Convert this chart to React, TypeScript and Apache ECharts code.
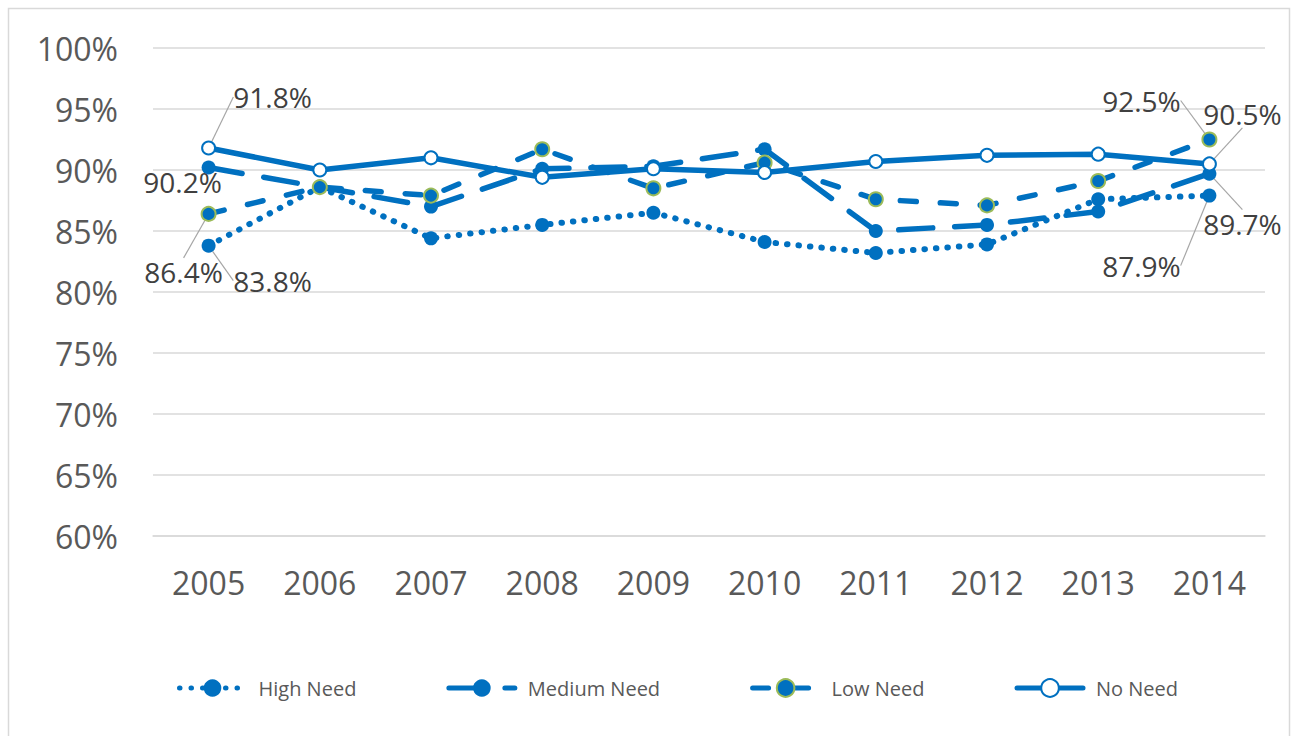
import React, { useEffect, useRef } from "react";
import * as echarts from "echarts";

const years = ["2005", "2006", "2007", "2008", "2009", "2010", "2011", "2012", "2013", "2014"];
const highNeed = [83.8, 88.6, 84.4, 85.5, 86.5, 84.1, 83.2, 83.9, 87.6, 87.9];
const mediumNeed = [90.2, 88.6, 87.0, 90.1, 90.3, 91.7, 85.0, 85.5, 86.6, 89.7];
const lowNeed = [86.4, 88.6, 87.9, 91.7, 88.5, 90.6, 87.6, 87.1, 89.1, 92.5];
const noNeed = [91.8, 90.0, 91.0, 89.4, 90.1, 89.8, 90.7, 91.2, 91.3, 90.5];
const seriesNames = ["High Need", "Medium Need", "Low Need", "No Need"];
const labeledIndices = [0, 9];

const BLUE = "#0070C0";
const GREEN = "#9BBB59";
const FONT = "Open Sans";

// label offsets [dx, dy] relative to the point, per series index -> data index
const labelOffsets: Record<number, Record<number, [number, number]>> = {
  0: { 0: [64, 35], 9: [-68, 70] },
  1: { 0: [-26, 14], 9: [33, 50] },
  2: { 0: [-25, 58], 9: [-68, -39] },
  3: { 0: [64, -51], 9: [33, -50] },
};

function buildData(values: number[], seriesIndex: number) {
  return values.map((v, i) => {
    if (!labeledIndices.includes(i)) return v;
    const noLine = seriesIndex === 1 && i === 0;
    return {
      value: v,
      label: { show: true },
      labelLine: { show: !noLine },
    };
  });
}

export default function App() {
  const ref = useRef<HTMLDivElement>(null);
  useEffect(() => {
    if (!ref.current) return;
    const chart = echarts.init(ref.current, null, { renderer: "svg" });
    const labelCommon = {
      show: false,
      position: "inside",
      fontFamily: FONT,
      fontSize: 28,
      color: "#404040",
      formatter: (p: any) => Number(p.value).toFixed(1) + "%",
    };
    const labelLineCommon = {
      show: true,
      lineStyle: { color: "#A6A6A6", width: 1.2 },
    };
    const mkLayout = (si: number) => (params: any) => {
      const o = labelOffsets[si][params.dataIndex];
      if (!o) return {};
      return { dx: o[0], dy: o[1] };
    };
    const lineStyles: any[] = [
      { color: BLUE, width: 6, type: [0.5, 11], cap: "round" },
      { color: BLUE, width: 5.5, type: [34, 22], cap: "round" },
      { color: BLUE, width: 5.5, type: [16, 24], cap: "round" },
      { color: BLUE, width: 5.5, type: "solid", cap: "round" },
    ];
    const itemStyles: any[] = [
      { color: BLUE, borderColor: BLUE, borderWidth: 0 },
      { color: BLUE, borderColor: BLUE, borderWidth: 0 },
      { color: BLUE, borderColor: GREEN, borderWidth: 2 },
      { color: "#FFFFFF", borderColor: BLUE, borderWidth: 2 },
    ];
    const allValues = [highNeed, mediumNeed, lowNeed, noNeed];
    const series = allValues.map((vals, si) => ({
      name: seriesNames[si],
      type: "line",
      data: buildData(vals, si),
      symbol: "circle",
      symbolSize: si === 3 ? 13 : 14,
      showAllSymbol: true,
      lineStyle: lineStyles[si],
      itemStyle: itemStyles[si],
      label: labelCommon,
      labelLine: labelLineCommon,
      labelLayout: mkLayout(si),
      emphasis: { disabled: true },
      z: 2 + si,
    }));

    chart.setOption({
      animation: false,
      backgroundColor: "#FFFFFF",
      graphic: [
        {
          type: "rect",
          shape: { x: 8.5, y: 8.5, width: 1281, height: 740 },
          style: { fill: "none", stroke: "#D9D9D9", lineWidth: 1.5 },
          silent: true,
          z: -10,
        },
      ],
      grid: { left: 153, right: 28, top: 48, bottom: 200, containLabel: false },
      legend: {
        left: 172,
        top: 673,
        itemWidth: 66,
        itemHeight: 22,
        itemGap: 90,
        data: seriesNames,
        lineStyle: { width: 5 },
        textStyle: {
          fontFamily: FONT,
          fontSize: 20,
          color: "#595959",
          padding: [0, 0, 0, 8],
        },
      },
      xAxis: {
        type: "category",
        data: years,
        boundaryGap: true,
        axisLine: { show: true, lineStyle: { color: "#D9D9D9", width: 1.5 } },
        axisTick: { show: false },
        axisLabel: {
          fontFamily: FONT,
          fontSize: 32,
          color: "#595959",
          margin: 30,
        },
      },
      yAxis: {
        type: "value",
        min: 60,
        max: 100,
        interval: 5,
        axisLine: { show: false },
        axisTick: { show: false },
        splitLine: { lineStyle: { color: "#D9D9D9", width: 1.5 } },
        axisLabel: {
          fontFamily: FONT,
          fontSize: 32,
          color: "#595959",
          margin: 35,
          formatter: "{value}%",
        },
      },
      series,
    });
    return () => chart.dispose();
  }, []);
  return (
    <div
      ref={ref}
      style={{ position: "absolute", left: 0, top: 0, width: 1293, height: 736 }}
    />
  );
}
